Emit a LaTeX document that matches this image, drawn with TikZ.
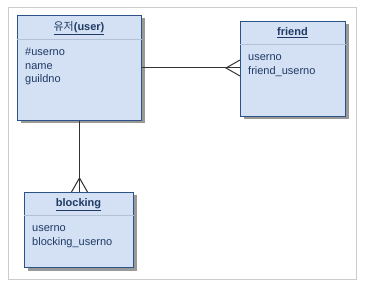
\documentclass[tikz,border=0pt]{standalone}
\usepackage{fontspec}
\setmainfont{Liberation Sans}
\newfontfamily\krfont{Noto Sans CJK KR}
\usetikzlibrary{shadows}
\definecolor{boxfill}{HTML}{D4E1F5}
\definecolor{boxdraw}{HTML}{2D5386}
\definecolor{txt}{HTML}{1F3A64}
\definecolor{sepcol}{HTML}{B5C2D6}
\definecolor{framecol}{HTML}{CCCCCC}
\definecolor{conncol}{HTML}{333333}
\begin{document}
\begin{tikzpicture}[x=1pt,y=-1pt,
  entity/.style={draw=boxdraw, fill=boxfill, line width=1pt, anchor=north west,
    inner sep=0pt, drop shadow={shadow xshift=3pt, shadow yshift=-3pt, fill=black!40, opacity=1}},
  sepline/.style={draw=sepcol, line width=0.8pt},
  conn/.style={draw=conncol, line width=1pt},
  title/.style={anchor=base, inner sep=0pt, text=txt, font=\fontsize{11}{13.5}\selectfont\bfseries},
  attr/.style={anchor=base west, inner sep=0pt, text=txt, font=\fontsize{11}{13.5}\selectfont}
]
\useasboundingbox (0,0) rectangle (366,288);
\draw[framecol, line width=0.8pt] (8,7) rectangle (356,279);

% entities
\node[entity, minimum width=124pt, minimum height=105pt] (user) at (17,15) {};
\node[entity, minimum width=105pt, minimum height=95pt] (friend) at (240,21) {};
\node[entity, minimum width=109pt, minimum height=75pt] (blocking) at (24,192) {};

% separators
\draw[sepline] ([yshift=-24pt]user.north west) -- ([yshift=-24pt]user.north east);
\draw[sepline] ([yshift=-23pt]friend.north west) -- ([yshift=-23pt]friend.north east);
\draw[sepline] ([yshift=-23pt]blocking.north west) -- ([yshift=-23pt]blocking.north east);

% titles
\node[title] (utitle) at (79,31) {\underline{{\krfont\mdseries 유저}(user)}};
\node[title] (ftitle) at (292.5,36) {\underline{friend}};
\node[title] (btitle) at (78.5,206) {\underline{blocking}};

% attributes
\node[attr] (ua1) at (25,56) {\#userno};
\node[attr] (ua2) at (25,69.5) {name};
\node[attr] (ua3) at (25,83) {guildno};
\node[attr] (fa1) at (248,61) {userno};
\node[attr] (fa2) at (248,74.5) {friend\_userno};
\node[attr] (ba1) at (32,231.5) {userno};
\node[attr] (ba2) at (32,245) {blocking\_userno};

% connectors
\coordinate (fe) at (user.east -| friend.west);
\coordinate (fapex) at ([xshift=-14pt]fe);
\draw[conn] (user.east) -- (fe);
\draw[conn] ([yshift=8pt]fe) -- (fapex) -- ([yshift=-8pt]fe);

\coordinate (be) at (user.south |- blocking.north);
\coordinate (bapex) at ([yshift=14pt]be);
\draw[conn] (user.south) -- (be);
\draw[conn] ([xshift=-8pt]be) -- (bapex) -- ([xshift=8pt]be);
\end{tikzpicture}
\end{document}
